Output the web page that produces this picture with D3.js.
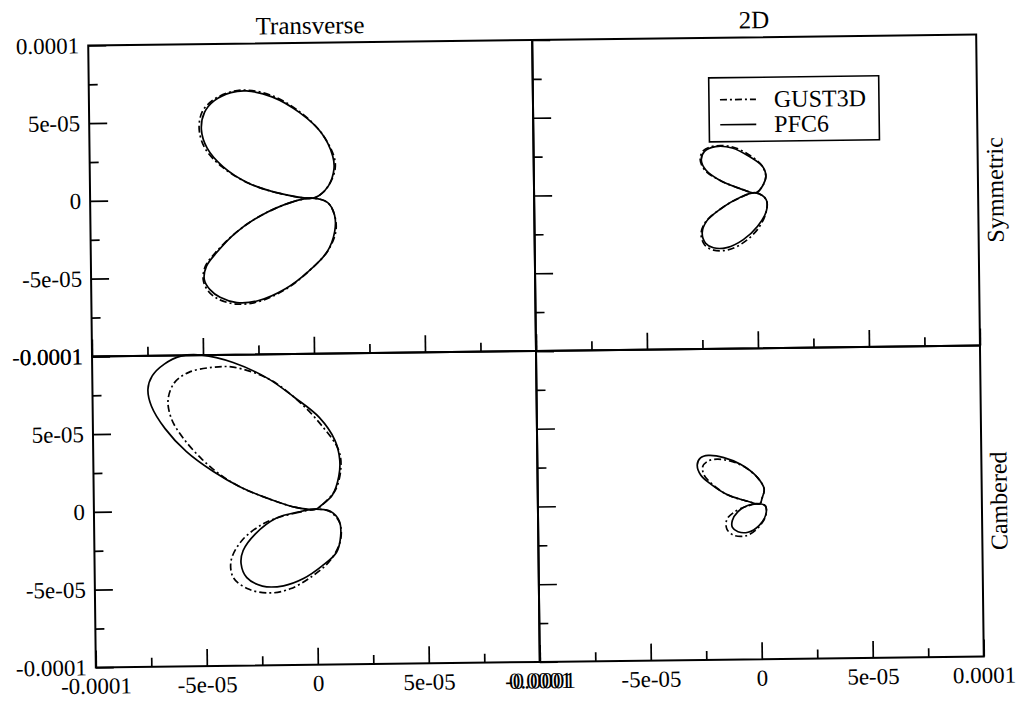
<!DOCTYPE html>
<html>
<head>
<meta charset="utf-8">
<script src="https://cdn.jsdelivr.net/npm/d3@7"></script>
<style>
  body { margin: 0; background: #fff; }
  svg { font-family: 'Liberation Serif', 'Times New Roman', serif; }
  .tick text { font-family: 'Liberation Serif', 'Times New Roman', serif; font-size: 23px; fill: #000; }
  .tick line { stroke: #000; stroke-width: 1.7; }
  .frame { fill: none; stroke: #000; stroke-width: 2; }
  .orbit { fill: none; stroke: #000; stroke-width: 1.7; }
  .orbit.gust { stroke-dasharray: 7 3 2 3; }
  .label { font-size: 24px; fill: #000; }
  .coltitle { font-size: 25px; }
</style>
</head>
<body>
<svg id="chart" width="1023" height="708"></svg>
<script>
const U = 1e-5; // loop values below are in units of 1e-5

const colNames = ["Transverse", "2D"];
const rowNames = ["Symmetric", "Cambered"];
const seriesNames = ["GUST3D", "PFC6"];
const majorTicks = [-1e-4, -5e-5, 0, 5e-5, 1e-4];
const minorTicks = [-7.5e-5, -2.5e-5, 2.5e-5, 7.5e-5];
const tickLabels = ["-0.0001", "-5e-05", "0", "5e-05", "0.0001"];

// Transverse, symmetric
const tsPfcUp = [[0,0],[-1.5,0.35],[-2.9,1.05],[-4.0,2.1],[-4.7,3.3],[-4.95,4.5],[-4.8,5.6],[-4.35,6.35],[-3.6,6.85],[-2.9,6.95],[-1.75,6.55],[-0.5,5.5],[0.45,4.2],[0.95,2.7],[1.0,1.85],[0.75,0.8],[0.3,0.15]];
const tsPfcLo = [[0,0],[-0.95,-0.25],[-2.35,-1.1],[-3.45,-2.15],[-4.35,-3.45],[-4.8,-4.3],[-4.9,-5.15],[-4.65,-5.8],[-4.2,-6.3],[-3.45,-6.65],[-2.5,-6.55],[-1.25,-5.8],[-0.2,-4.7],[0.65,-3.45],[1.0,-2.15],[1.0,-1.1],[0.7,-0.3]];
const tsGustUp = [[0,0],[-1.5,0.35],[-2.9,1.05],[-4.05,2.1],[-4.8,3.3],[-5.05,4.55],[-4.9,5.65],[-4.4,6.4],[-3.6,6.9],[-2.85,7.0],[-1.7,6.6],[-0.45,5.5],[0.45,4.2],[1.0,2.7],[1.05,1.85],[0.75,0.8],[0.3,0.15]];
const tsGustLo = [[0,0],[-0.95,-0.25],[-2.35,-1.1],[-3.45,-2.15],[-4.4,-3.45],[-4.85,-4.3],[-4.95,-5.15],[-4.75,-5.85],[-4.3,-6.4],[-3.45,-6.75],[-2.45,-6.6],[-1.2,-5.8],[-0.2,-4.7],[0.65,-3.45],[1.05,-2.15],[1.0,-1.1],[0.7,-0.3]];

// 2D, symmetric
const dsPfcUp = [[0,0],[-0.75,0.3],[-1.65,0.85],[-2.25,1.5],[-2.45,2.15],[-2.3,2.7],[-1.8,3.0],[-1.05,2.9],[-0.3,2.35],[0.3,1.7],[0.45,1.05],[0.3,0.45]];
const dsPfcLo = [[0,0],[-0.75,-0.3],[-1.65,-1.05],[-2.25,-1.8],[-2.45,-2.55],[-2.3,-3.2],[-1.95,-3.5],[-1.35,-3.5],[-0.6,-3.0],[0.05,-2.15],[0.45,-1.2],[0.45,-0.45]];
const dsGustUp = [[0,0],[-0.75,0.3],[-1.65,0.85],[-2.3,1.5],[-2.5,2.2],[-2.35,2.75],[-1.8,3.05],[-1.0,2.95],[-0.25,2.4],[0.3,1.7],[0.45,1.05],[0.3,0.45]];
const dsGustLo = [[0,0],[-0.8,-0.35],[-1.7,-1.1],[-2.3,-1.85],[-2.5,-2.6],[-2.35,-3.3],[-1.95,-3.65],[-1.3,-3.65],[-0.55,-3.15],[0.1,-2.25],[0.45,-1.2],[0.45,-0.45]];

// Transverse, cambered
const tcPfcUp = [[0,0],[-0.9,0.13],[-2.1,0.7],[-3.35,1.45],[-4.6,2.5],[-5.8,3.8],[-6.75,5.3],[-7.35,6.75],[-7.5,7.85],[-7.3,8.7],[-6.75,9.45],[-6.0,9.95],[-5.05,10.0],[-3.65,9.5],[-2.1,8.45],[-0.9,7.2],[0.2,5.9],[0.9,4.4],[1.1,3.15],[1.05,2.1],[0.75,0.9],[0.25,0.25]];
const tcPfcLo = [[0,0],[-0.75,-0.15],[-1.8,-0.55],[-2.75,-1.55],[-3.3,-2.6],[-3.4,-3.45],[-3.15,-4.35],[-2.45,-4.9],[-1.5,-4.9],[-0.6,-4.45],[0.25,-3.65],[0.9,-2.8],[1.1,-1.75],[1.05,-0.8],[0.65,-0.15]];
const tcGustUp = [[0,0],[-0.9,0.13],[-2.1,0.7],[-3.35,1.45],[-4.3,2.3],[-5.1,3.3],[-5.9,4.6],[-6.45,5.9],[-6.6,7.15],[-6.3,8.25],[-5.65,8.9],[-4.6,9.2],[-3.65,9.2],[-2.1,8.45],[-0.75,7.0],[0.35,5.3],[1.05,3.8],[1.15,2.7],[0.9,1.25],[0.3,0.3]];
const tcGustLo = [[0,0],[-0.8,-0.2],[-1.8,-0.55],[-2.45,-0.95],[-3.35,-1.95],[-3.85,-3.25],[-3.75,-4.35],[-3.05,-5.1],[-2.1,-5.35],[-1.2,-5.1],[-0.3,-4.4],[0.65,-3.25],[1.1,-1.95],[1.05,-0.85],[0.6,-0.15]];

// 2D, cambered
const dcPfcUp = [[0,0],[-0.55,0.17],[-1.45,0.6],[-2.2,1.3],[-2.65,1.9],[-2.8,2.55],[-2.65,3.0],[-2.3,3.15],[-1.6,3.0],[-0.85,2.55],[-0.1,1.7],[0.2,0.95],[0.1,0.35]];
const dcPfcLo = [[0,0],[-0.55,-0.1],[-1.0,-0.5],[-1.25,-1.05],[-1.25,-1.5],[-1.0,-1.78],[-0.55,-1.82],[-0.05,-1.4],[0.25,-0.75],[0.25,-0.15]];
const dcGustUp = [[0,0],[-0.55,0.17],[-1.45,0.6],[-2.1,1.25],[-2.5,1.9],[-2.55,2.45],[-2.3,2.8],[-1.9,2.9],[-1.4,2.8],[-0.75,2.45],[-0.1,1.7],[0.2,0.95],[0.1,0.35]];
const dcGustLo = [[0,0],[-0.6,-0.15],[-1.2,-0.55],[-1.5,-1.0],[-1.5,-1.6],[-1.2,-2.0],[-0.65,-2.05],[-0.1,-1.55],[0.25,-0.8],[0.25,-0.15]];

const panels = [
    { col: 0, row: 0, gust: [tsGustUp, tsGustLo], pfc: [tsPfcUp, tsPfcLo] },
    { col: 1, row: 0, gust: [dsGustUp, dsGustLo], pfc: [dsPfcUp, dsPfcLo] },
    { col: 0, row: 1, gust: [tcGustUp, tcGustLo], pfc: [tcPfcUp, tcPfcLo] },
    { col: 1, row: 1, gust: [dcGustUp, dcGustLo], pfc: [dcPfcUp, dcPfcLo] }
];

// grid edges in px
const xEdges = [92, 536, 980];
const yEdges = [40, 351, 662];

const svg = d3.select('#chart');
// the source is a slightly tilted scan
const root = svg.append('g').attr('transform', 'rotate(-0.7, 536, 351)');

panels.forEach(p => {
    const x0 = xEdges[p.col], x1 = xEdges[p.col + 1];
    const y0 = yEdges[p.row], y1 = yEdges[p.row + 1];

    const x = d3.scaleLinear().domain([-1e-4, 1e-4]).range([x0, x1]);
    const y = d3.scaleLinear().domain([-1e-4, 1e-4]).range([y1, y0]);

    const g = root.append('g');

    // y ticks point inward (to the right)
    g.append('g')
        .attr('transform', `translate(${x0},0)`)
        .call(d3.axisLeft(y).tickValues(majorTicks).tickSize(-18).tickPadding(9)
            .tickFormat((d, i) => p.col === 0 ? tickLabels[i] : ''))
        .call(a => a.select('.domain').remove());
    g.append('g')
        .attr('transform', `translate(${x0},0)`)
        .call(d3.axisLeft(y).tickValues(minorTicks).tickSize(-9).tickFormat(''))
        .call(a => a.select('.domain').remove());

    // x ticks point inward (upward)
    g.append('g')
        .attr('transform', `translate(0,${y1})`)
        .call(d3.axisBottom(x).tickValues(majorTicks).tickSize(-17).tickPadding(10)
            .tickFormat((d, i) => p.row === 1 ? tickLabels[i] : ''))
        .call(a => a.select('.domain').remove());
    g.append('g')
        .attr('transform', `translate(0,${y1})`)
        .call(d3.axisBottom(x).tickValues(minorTicks).tickSize(-9).tickFormat(''))
        .call(a => a.select('.domain').remove());

    g.append('rect')
        .attr('class', 'frame')
        .attr('x', x0).attr('y', y0)
        .attr('width', x1 - x0).attr('height', y1 - y0);

    const line = d3.line()
        .x(d => x(d[0] * U))
        .y(d => y(d[1] * U))
        .curve(d3.curveCatmullRomClosed.alpha(0.5));

    g.selectAll('.gust')
        .data(p.gust)
        .join('path')
        .attr('class', 'orbit gust')
        .attr('d', line);

    g.selectAll('.pfc')
        .data(p.pfc)
        .join('path')
        .attr('class', 'orbit pfc')
        .attr('d', line);
});

// column titles
root.selectAll('.coltitle')
    .data(colNames)
    .join('text')
    .attr('class', 'label coltitle')
    .attr('x', (d, i) => (xEdges[i] + xEdges[i + 1]) / 2)
    .attr('y', 31)
    .attr('text-anchor', 'middle')
    .text(d => d);

// row titles on the right, rotated
root.selectAll('.rowtitle')
    .data(rowNames)
    .join('text')
    .attr('class', 'label rowtitle')
    .attr('text-anchor', 'middle')
    .attr('transform', (d, i) => `translate(1005,${(yEdges[i] + yEdges[i + 1]) / 2}) rotate(-90)`)
    .text(d => d);

// legend in the top right panel
const legend = root.append('g').attr('transform', 'translate(712,80)');
legend.append('rect')
    .attr('class', 'frame')
    .attr('width', 170).attr('height', 64)
    .style('stroke-width', 1.6);

const items = legend.selectAll('.item')
    .data(seriesNames)
    .join('g')
    .attr('transform', (d, i) => `translate(0,${22 + i * 25})`);

items.append('line')
    .attr('class', (d, i) => i === 0 ? 'orbit gust' : 'orbit')
    .attr('x1', 11).attr('x2', 47)
    .attr('y1', 0).attr('y2', 0);

items.append('text')
    .attr('class', 'label')
    .attr('x', 65)
    .attr('y', 8)
    .text(d => d);
</script>
</body>
</html>
